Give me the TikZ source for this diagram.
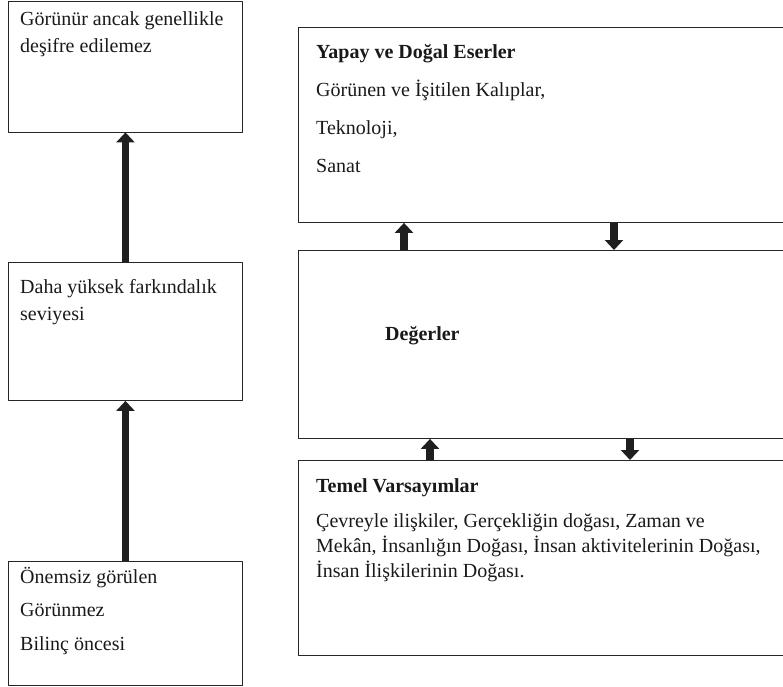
\documentclass[tikz,border=0pt]{standalone}
\usepackage{fontspec}
\setmainfont{Liberation Serif}
\usetikzlibrary{arrows.meta}
\begin{document}
\begin{tikzpicture}[x=1pt,y=-1pt,line join=round,
	box/.style={draw,line width=0.9pt,color=black!85,rectangle,anchor=north west,inner sep=0pt},
	txt/.style={anchor=north west,inner sep=0pt,align=left,text=black!90,font=\fontsize{20}{25}\selectfont},
	fat/.style={line width=7.5pt,color=black!88,-{Triangle[width=18pt,length=10pt]}}]
		\def\W{783} \def\H{686}
		\useasboundingbox (0,0) rectangle (\W,\H);
		\clip (0,0) rectangle (\W,\H);
		% cột sol
		\node[box,minimum width=234pt,minimum height=131pt] (lt) at (8,0.5) {};
		\node[box,minimum width=234pt,minimum height=138pt] (lm) at (8,262) {};
		\node[box,minimum width=234pt,minimum height=124pt] (lb) at (8,561) {};
		\node[txt] (ltx) at (20,7.5) {\strut Görünür ancak genellikle\\[2pt] deşifre edilemez};
		\node[txt] (lmx) at (20,275.5) {\strut Daha yüksek farkındalık\\[2pt] seviyesi};
		\node[txt] (lbx) at (20,565.5) {\strut Önemsiz görülen\\[8.5pt] Görünmez\\[8.5pt] Bilinç öncesi};
		\draw[fat] (lb.north) -- (lm.south);
		\draw[fat] (lm.north) -- (lt.south);
		% cột sağ
		\node[box,minimum width=487pt,minimum height=195pt] (rt) at (298,27) {};
		\node[box,minimum width=487pt,minimum height=188pt] (rm) at (298,250) {};
		\node[box,minimum width=487pt,minimum height=195pt] (rb) at (298,460) {};
		\node[txt] (rtx) at (316,40.5) {\strut\textbf{Yapay ve Doğal Eserler}\\[13pt] Görünen ve İşitilen Kalıplar,\\[13pt] Teknoloji,\\[13pt] Sanat};
		\node[txt] (rmx) at (385,322.5) {\strut\textbf{Değerler}};
		\node[txt] (rbx) at (316,474.5) {\strut\textbf{Temel Varsayımlar}\\[10pt] Çevreyle ilişkiler, Gerçekliğin doğası, Zaman ve\\ Mekân, İnsanlığın Doğası, İnsan aktivitelerinin Doğası,\\ İnsan İlişkilerinin Doğası.};
		\draw[fat] ([xshift=106pt]rm.north west) -- ([xshift=106pt]rt.south west);
		\draw[fat] ([xshift=316pt]rt.south west) -- ([xshift=316pt]rm.north west);
		\draw[fat] ([xshift=132pt]rb.north west) -- ([xshift=132pt]rm.south west);
		\draw[fat] ([xshift=332pt]rm.south west) -- ([xshift=332pt]rb.north west);
\end{tikzpicture}
\end{document}
